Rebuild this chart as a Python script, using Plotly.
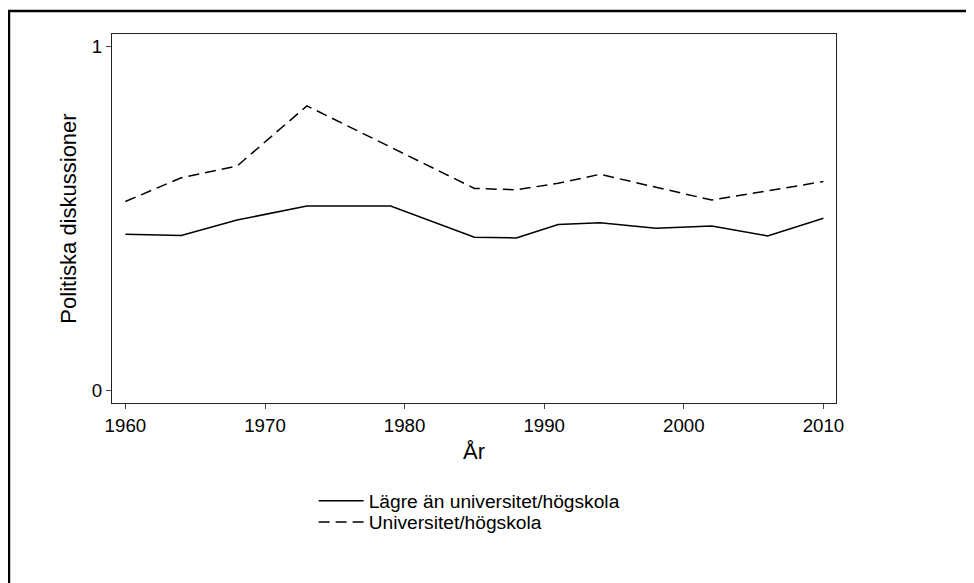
import plotly.graph_objects as go

# election study years and shares discussing politics
years = [1960, 1964, 1968, 1973, 1979, 1985, 1988, 1991, 1994, 1998, 2002, 2006, 2010]
lagre = [0.454, 0.450, 0.495, 0.536, 0.536, 0.445, 0.443, 0.482, 0.487, 0.471, 0.478, 0.449, 0.500]
univ = [0.549, 0.618, 0.652, 0.827, 0.707, 0.587, 0.583, 0.602, 0.628, 0.591, 0.553, 0.580, 0.607]

FONT = "Liberation Sans, Arial, Helvetica, sans-serif"

fig = go.Figure()
fig.add_trace(go.Scatter(x=years, y=lagre, mode="lines", name="Lägre än universitet/högskola",
                         line=dict(color="black", width=1.5), legend="legend"))
fig.add_trace(go.Scatter(x=years, y=univ, mode="lines", name="Universitet/högskola",
                         line=dict(color="black", width=1.5, dash="11px,6px"), legend="legend2"))

# outer frame of the graph region (runs off the right and bottom edges)
fig.add_shape(type="rect", xref="paper", yref="paper", x0=-0.1423, x1=1.3, y0=-0.6, y1=1.0623,
              line=dict(color="black", width=2.5), layer="below")

# one legend per row so the row spacing can follow the original
leg = dict(x=0.2785, xanchor="left", yanchor="middle", bgcolor="rgba(0,0,0,0)",
           font=dict(size=19.2), itemwidth=45)

# the page body has an 8px margin, so the figure is 8px smaller each way
fig.update_layout(
    width=966, height=575,
    margin=dict(l=104, r=138, t=26, b=180),
    paper_bgcolor="white", plot_bgcolor="white",
    font=dict(family=FONT, size=18.7, color="black"),
    showlegend=True,
    legend=dict(leg, y=-0.2648),
    legend2=dict(leg, y=-0.3225),
    xaxis=dict(range=[1959.04, 2010.9], tickvals=[1960, 1970, 1980, 1990, 2000, 2010],
               showgrid=False, zeroline=False, showline=True, mirror=True,
               linecolor="#222", linewidth=1.3, ticks="outside", ticklen=5, tickcolor="#444",
               tickwidth=1, title=dict(text="År", standoff=9)),
    yaxis=dict(range=[-0.037, 1.036], tickvals=[0, 1],
               showgrid=False, zeroline=False, showline=True, mirror=True,
               linecolor="#222", linewidth=1.3, ticks="outside", ticklen=5, tickcolor="#444",
               tickwidth=1, title=dict(text="Politiska diskussioner", standoff=9)),
)

fig.write_html("out.html")
